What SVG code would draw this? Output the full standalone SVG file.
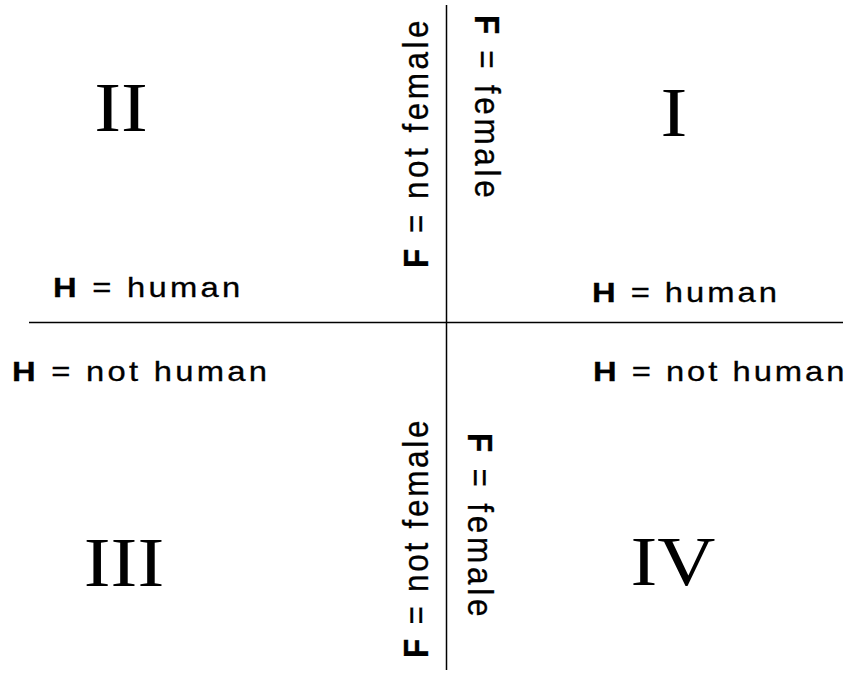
<svg xmlns="http://www.w3.org/2000/svg" width="852" height="677" viewBox="0 0 852 677">
<style>
.ax{stroke:#000;stroke-width:1.5;fill:none}
.lab{font-family:"Liberation Sans",Arial,sans-serif;font-size:28px;fill:#000;stroke:#000;stroke-width:0.3}
.vlab{font-family:"Liberation Sans",Arial,sans-serif;font-size:35px;fill:#000;stroke:#000;stroke-width:0.3}
.b{font-weight:bold}
.rom{font-family:"Liberation Serif","Times New Roman",serif;font-size:70px;fill:#000;text-anchor:middle}
</style>
<rect width="852" height="677" fill="#fff"/>
<g id="connectors">
<line class="ax" x1="29" y1="322.5" x2="843" y2="322.5"/>
<line class="ax" x1="446.5" y1="5" x2="446.5" y2="670"/>
</g>
<g id="quadrant-I">
<text class="rom" transform="translate(674,136) scale(1.15,1)">I</text>
<text class="vlab" transform="translate(475,15) rotate(90) scale(0.9,1)" textLength="203" lengthAdjust="spacing"><tspan class="b">F</tspan> = female</text>
<text class="lab" transform="translate(592,302) scale(1.17,1)" textLength="158" lengthAdjust="spacing"><tspan class="b">H</tspan> = human</text>
</g>
<g id="quadrant-II">
<text class="rom" transform="translate(121,131) scale(1.15,1)">II</text>
<text class="vlab" transform="translate(428,268) rotate(-90) scale(0.9,1)" textLength="275" lengthAdjust="spacing"><tspan class="b">F</tspan> = not female</text>
<text class="lab" transform="translate(53,297) scale(1.17,1)" textLength="160" lengthAdjust="spacing"><tspan class="b">H</tspan> = human</text>
</g>
<g id="quadrant-III">
<text class="rom" transform="translate(124,586) scale(1.15,1)">III</text>
<text class="vlab" transform="translate(428,658) rotate(-90) scale(0.9,1)" textLength="264" lengthAdjust="spacing"><tspan class="b">F</tspan> = not female</text>
<text class="lab" transform="translate(12,381) scale(1.17,1)" textLength="218" lengthAdjust="spacing"><tspan class="b">H</tspan> = not human</text>
</g>
<g id="quadrant-IV">
<text class="rom" transform="translate(673,585) scale(1.15,1)">IV</text>
<text class="vlab" transform="translate(468,433) rotate(90) scale(0.9,1)" textLength="204" lengthAdjust="spacing"><tspan class="b">F</tspan> = female</text>
<text class="lab" transform="translate(593,381) scale(1.17,1)" textLength="215" lengthAdjust="spacing"><tspan class="b">H</tspan> = not human</text>
</g>
</svg>
